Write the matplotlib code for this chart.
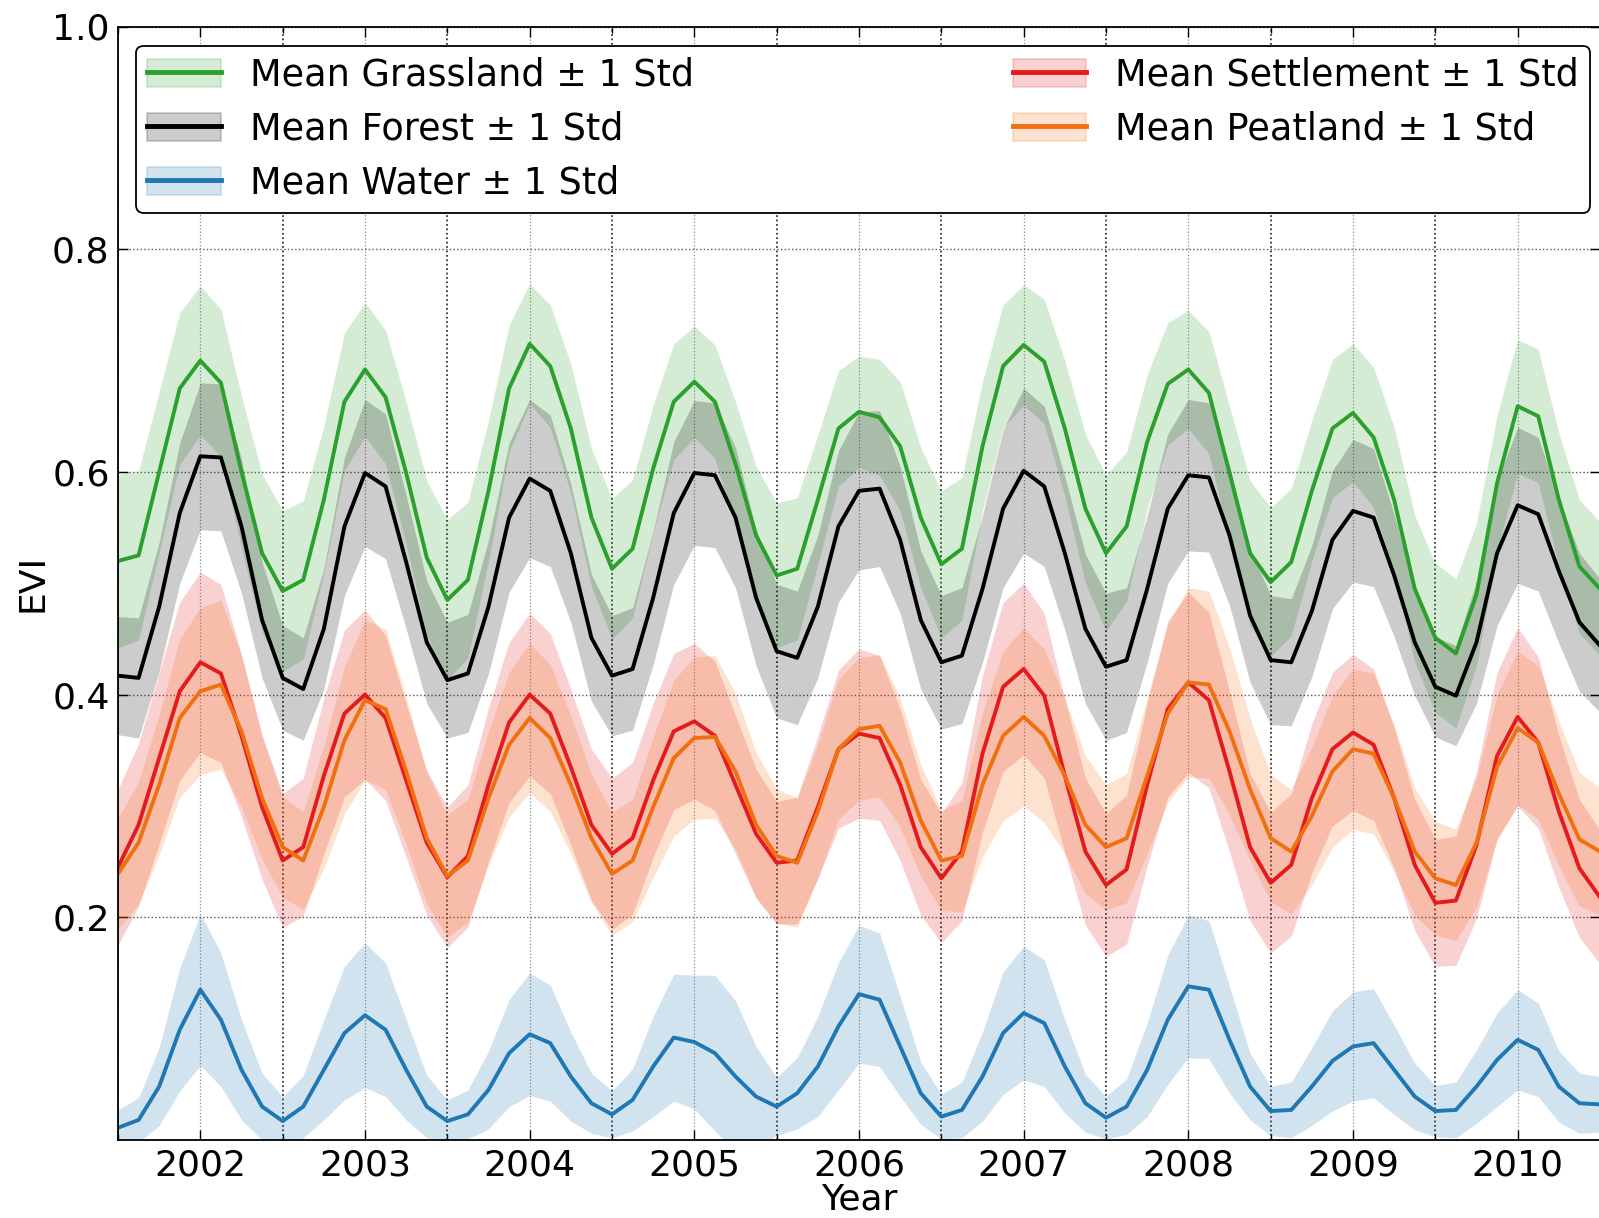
import numpy as np
import matplotlib
matplotlib.use('Agg')
import matplotlib.pyplot as plt
from matplotlib.patches import Patch
from matplotlib.lines import Line2D

plt.rcParams['font.family'] = 'DejaVu Sans'

# sampling: every 1/8 year from mid-2001 to mid-2010
years = 2001.5 + np.arange(73) / 8.0

grass_mean = [
    0.520, 0.525, 0.600, 0.675,
    0.700, 0.680, 0.600, 0.527,
    0.493, 0.503, 0.575, 0.663,
    0.692, 0.667, 0.599, 0.523,
    0.485, 0.503, 0.583, 0.675,
    0.715, 0.695, 0.639, 0.559,
    0.513, 0.531, 0.603, 0.663,
    0.681, 0.663, 0.607, 0.543,
    0.507, 0.513, 0.575, 0.639,
    0.654, 0.649, 0.623, 0.559,
    0.517, 0.531, 0.623, 0.695,
    0.714, 0.699, 0.639, 0.567,
    0.527, 0.551, 0.627, 0.679,
    0.692, 0.671, 0.599, 0.527,
    0.501, 0.519, 0.583, 0.639,
    0.653, 0.631, 0.575, 0.495,
    0.451, 0.437, 0.490, 0.590,
    0.659, 0.650, 0.575, 0.515,
    0.495]
grass_std = [
    0.078, 0.076, 0.072, 0.068,
    0.067, 0.066, 0.068, 0.071,
    0.072, 0.071, 0.066, 0.062,
    0.060, 0.060, 0.064, 0.069,
    0.072, 0.070, 0.063, 0.057,
    0.054, 0.055, 0.058, 0.062,
    0.063, 0.062, 0.057, 0.052,
    0.050, 0.051, 0.056, 0.062,
    0.065, 0.064, 0.058, 0.052,
    0.050, 0.052, 0.058, 0.063,
    0.066, 0.064, 0.058, 0.055,
    0.054, 0.056, 0.061, 0.067,
    0.070, 0.067, 0.060, 0.055,
    0.053, 0.055, 0.060, 0.065,
    0.067, 0.066, 0.063, 0.062,
    0.062, 0.063, 0.065, 0.066,
    0.067, 0.067, 0.064, 0.061,
    0.060, 0.060, 0.060, 0.060,
    0.060]

forest_mean = [
    0.417, 0.415, 0.479, 0.563,
    0.614, 0.613, 0.551, 0.467,
    0.415, 0.405, 0.459, 0.551,
    0.599, 0.587, 0.519, 0.447,
    0.413, 0.419, 0.479, 0.559,
    0.594, 0.583, 0.527, 0.451,
    0.417, 0.423, 0.487, 0.563,
    0.599, 0.597, 0.559, 0.487,
    0.439, 0.433, 0.479, 0.551,
    0.583, 0.585, 0.539, 0.467,
    0.429, 0.435, 0.495, 0.567,
    0.601, 0.587, 0.527, 0.459,
    0.425, 0.431, 0.495, 0.567,
    0.597, 0.595, 0.543, 0.471,
    0.431, 0.429, 0.475, 0.539,
    0.565, 0.559, 0.507, 0.447,
    0.407, 0.399, 0.447, 0.527,
    0.570, 0.562, 0.511, 0.465,
    0.444]
forest_std = [
    0.053, 0.054, 0.058, 0.063,
    0.066, 0.066, 0.060, 0.052,
    0.047, 0.046, 0.054, 0.062,
    0.066, 0.065, 0.060, 0.055,
    0.052, 0.053, 0.060, 0.067,
    0.071, 0.068, 0.062, 0.057,
    0.054, 0.055, 0.060, 0.064,
    0.065, 0.065, 0.063, 0.061,
    0.060, 0.060, 0.064, 0.068,
    0.071, 0.070, 0.066, 0.062,
    0.060, 0.061, 0.066, 0.071,
    0.074, 0.072, 0.069, 0.067,
    0.066, 0.065, 0.066, 0.067,
    0.068, 0.067, 0.063, 0.060,
    0.058, 0.057, 0.059, 0.062,
    0.064, 0.062, 0.055, 0.048,
    0.045, 0.045, 0.055, 0.065,
    0.070, 0.069, 0.065, 0.062,
    0.060]

water_mean = [
    0.011, 0.018, 0.048, 0.099,
    0.135, 0.108, 0.063, 0.030,
    0.017, 0.030, 0.063, 0.096,
    0.112, 0.099, 0.063, 0.030,
    0.017, 0.023, 0.045, 0.078,
    0.095, 0.087, 0.057, 0.033,
    0.023, 0.036, 0.066, 0.092,
    0.088, 0.078, 0.057, 0.039,
    0.030, 0.042, 0.066, 0.102,
    0.131, 0.126, 0.084, 0.042,
    0.021, 0.027, 0.057, 0.096,
    0.114, 0.105, 0.066, 0.033,
    0.020, 0.030, 0.063, 0.108,
    0.138, 0.135, 0.090, 0.048,
    0.026, 0.027, 0.048, 0.071,
    0.084, 0.087, 0.063, 0.039,
    0.026, 0.027, 0.048, 0.072,
    0.090, 0.081, 0.048, 0.033,
    0.032]
water_std = [
    0.016, 0.020, 0.035, 0.055,
    0.068, 0.060, 0.045, 0.030,
    0.022, 0.028, 0.045, 0.060,
    0.065, 0.060, 0.045, 0.028,
    0.019, 0.022, 0.035, 0.048,
    0.055, 0.052, 0.040, 0.027,
    0.021, 0.028, 0.045, 0.057,
    0.060, 0.070, 0.068, 0.045,
    0.026, 0.032, 0.045, 0.057,
    0.062, 0.060, 0.045, 0.028,
    0.020, 0.025, 0.040, 0.055,
    0.060, 0.057, 0.042, 0.026,
    0.019, 0.025, 0.042, 0.058,
    0.064, 0.062, 0.048, 0.030,
    0.022, 0.025, 0.035, 0.045,
    0.049, 0.049, 0.040, 0.030,
    0.023, 0.025, 0.033, 0.042,
    0.045, 0.042, 0.032, 0.027,
    0.025]

settle_mean = [
    0.245, 0.283, 0.343, 0.403,
    0.429, 0.419, 0.363, 0.299,
    0.251, 0.263, 0.327, 0.383,
    0.400, 0.379, 0.323, 0.267,
    0.236, 0.255, 0.319, 0.375,
    0.400, 0.383, 0.335, 0.283,
    0.257, 0.271, 0.323, 0.367,
    0.376, 0.363, 0.319, 0.275,
    0.249, 0.251, 0.299, 0.351,
    0.365, 0.361, 0.319, 0.263,
    0.235, 0.259, 0.347, 0.407,
    0.423, 0.399, 0.327, 0.259,
    0.229, 0.243, 0.319, 0.387,
    0.411, 0.395, 0.331, 0.263,
    0.231, 0.247, 0.307, 0.351,
    0.366, 0.355, 0.307, 0.247,
    0.213, 0.215, 0.265, 0.345,
    0.380, 0.357, 0.295, 0.244,
    0.218]
settle_std = [
    0.070, 0.073, 0.077, 0.080,
    0.081, 0.080, 0.073, 0.065,
    0.060, 0.062, 0.070, 0.075,
    0.076, 0.074, 0.069, 0.065,
    0.063, 0.064, 0.069, 0.072,
    0.073, 0.072, 0.070, 0.068,
    0.068, 0.068, 0.069, 0.070,
    0.070, 0.067, 0.062, 0.058,
    0.055, 0.057, 0.064, 0.071,
    0.076, 0.074, 0.068, 0.061,
    0.058, 0.062, 0.070, 0.076,
    0.077, 0.074, 0.069, 0.066,
    0.064, 0.067, 0.073, 0.079,
    0.081, 0.079, 0.072, 0.066,
    0.063, 0.064, 0.067, 0.069,
    0.070, 0.068, 0.063, 0.059,
    0.057, 0.058, 0.066, 0.075,
    0.080, 0.077, 0.068, 0.062,
    0.060]

peat_mean = [
    0.239, 0.267, 0.319, 0.379,
    0.403, 0.409, 0.367, 0.307,
    0.263, 0.251, 0.299, 0.359,
    0.395, 0.387, 0.331, 0.271,
    0.237, 0.251, 0.307, 0.355,
    0.379, 0.361, 0.319, 0.271,
    0.239, 0.251, 0.299, 0.343,
    0.361, 0.362, 0.331, 0.283,
    0.255, 0.249, 0.295, 0.351,
    0.369, 0.372, 0.339, 0.287,
    0.251, 0.255, 0.319, 0.363,
    0.380, 0.363, 0.327, 0.283,
    0.263, 0.271, 0.327, 0.383,
    0.411, 0.409, 0.367, 0.315,
    0.271, 0.259, 0.291, 0.331,
    0.351, 0.347, 0.307, 0.259,
    0.235, 0.229, 0.267, 0.335,
    0.370, 0.357, 0.311, 0.270,
    0.259]
peat_std = [
    0.050, 0.055, 0.063, 0.071,
    0.075, 0.076, 0.068, 0.055,
    0.045, 0.044, 0.055, 0.066,
    0.072, 0.072, 0.066, 0.059,
    0.055, 0.055, 0.060, 0.065,
    0.067, 0.066, 0.062, 0.058,
    0.055, 0.055, 0.063, 0.070,
    0.073, 0.073, 0.070, 0.065,
    0.060, 0.058, 0.060, 0.063,
    0.064, 0.064, 0.058, 0.050,
    0.045, 0.050, 0.065, 0.076,
    0.080, 0.078, 0.070, 0.062,
    0.056, 0.058, 0.070, 0.080,
    0.085, 0.084, 0.075, 0.064,
    0.057, 0.056, 0.062, 0.068,
    0.072, 0.072, 0.066, 0.057,
    0.051, 0.050, 0.058, 0.065,
    0.069, 0.069, 0.065, 0.060,
    0.057]

labels = ['Grassland', 'Forest', 'Water', 'Settlement', 'Peatland']
colors = ['#2ca02c', 'k', '#1f77b4', '#e41a1c', '#f07010']
means = [grass_mean, forest_mean, water_mean, settle_mean, peat_mean]
stds = [grass_std, forest_std, water_std, settle_std, peat_std]

fig = plt.figure(figsize=(15.99, 12.18), dpi=100)
ax = fig.add_axes([118 / 1599, 78 / 1218, 1482 / 1599, 1113.5 / 1218])

handles = []
for lab, c, m, s in zip(labels, colors, means, stds):
    m = np.array(m)
    s = np.array(s)
    ax.fill_between(years, m - s, m + s, color=c, alpha=0.2, linewidth=0)
    ax.plot(years, m, color=c, linewidth=2.8, solid_joinstyle='round')
    h = (Patch(facecolor=c, edgecolor=c, alpha=0.2, linewidth=1.2),
         Line2D([], [], color=c, linewidth=3.5))
    handles.append(h)

ax.set_xlim(2001.5, 2010.5)
ax.set_ylim(0.0, 1.0)
ax.set_xticks(np.arange(2002, 2011))
ax.set_xticks(np.arange(2001.5, 2011, 1.0), minor=True)
ax.set_yticks([0.2, 0.4, 0.6, 0.8, 1.0])
ax.set_yticklabels(['0.2', '0.4', '0.6', '0.8', '1.0'])

ax.tick_params(which='both', direction='in', top=True, right=True,
               labelsize=26, pad=6)
ax.tick_params(which='major', length=7, width=1)
ax.tick_params(which='minor', length=4, width=1)

ax.grid(which='major', axis='x', color='0.55', linestyle=':', linewidth=0.9)
ax.grid(which='minor', axis='x', color='0.1', linestyle=':', linewidth=1.2)
ax.grid(which='major', axis='y', color='0.35', linestyle=':', linewidth=1.0)
ax.set_axisbelow(True)

for sp in ax.spines.values():
    sp.set_linewidth(1.3)

ax.set_xlabel('Year', fontsize=26, labelpad=0)
ax.set_ylabel('EVI', fontsize=26, labelpad=2)

leg = ax.legend(handles, ['Mean %s \u00b1 1 Std' % l for l in labels],
                ncol=2, loc='upper left', mode='expand',
                bbox_to_anchor=(0.0124, 0.0, 0.981, 0.9826), borderaxespad=0,
                fontsize=26.4, handlelength=2.0, handleheight=0.8,
                handletextpad=0.8, labelspacing=0.46, borderpad=0.3,
                fancybox=True, framealpha=1.0)
leg.get_frame().set_edgecolor('k')
leg.get_frame().set_linewidth(1.3)

fig.savefig('out.png', dpi=100)
